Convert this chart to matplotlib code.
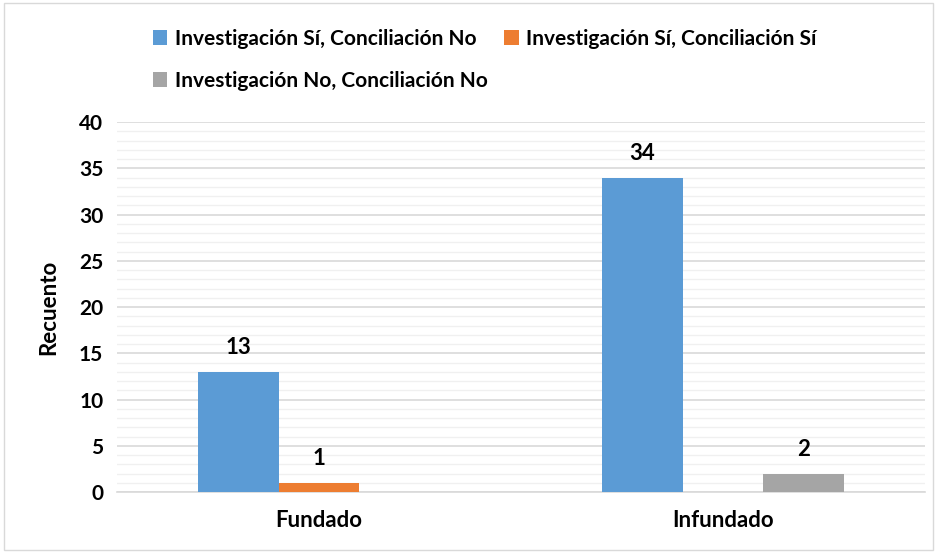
import numpy as np
import matplotlib
matplotlib.use("Agg")
import matplotlib.pyplot as plt
from matplotlib.patches import Rectangle

# ==================================================
# Data
# ==================================================
categories = ["Fundado", "Infundado"]
series_names = [
    "Investigación Sí, Conciliación No",
    "Investigación Sí, Conciliación Sí",
    "Investigación No, Conciliación No",
]
inv_si_conc_no = [13, 34]
inv_si_conc_si = [1, 0]
inv_no_conc_no = [0, 2]

colors = ["#5B9BD5", "#ED7D31", "#A5A5A5"]

plt.rcParams["font.family"] = ["Lato", "DejaVu Sans"]
plt.rcParams["font.weight"] = "bold"

fig = plt.figure(figsize=(9.37, 5.52), dpi=100)
ax = fig.add_axes([0.125, 0.1087, 0.862, 0.670])

x = np.arange(len(categories))
width = 0.2
all_series = [inv_si_conc_no, inv_si_conc_si, inv_no_conc_no]
handles = []
for i, (vals, name, col) in enumerate(zip(all_series, series_names, colors)):
    offs = (i - 1) * width
    bars = ax.bar(x + offs, vals, width, color=col, label=name, zorder=3)
    handles.append(bars)
    for xi, v in zip(x + offs, vals):
        if v > 0:
            ax.text(xi, v + 1.5, str(v), ha="center", va="bottom",
                    fontsize=16, fontweight="bold", color="black")

ax.set_xlim(-0.5, 1.5)
ax.set_ylim(0, 40)
ax.set_yticks(np.arange(0, 41, 5))
ax.set_yticks(np.arange(0, 41, 1), minor=True)
ax.grid(axis="y", which="major", color="#d9d9d9", linewidth=1.2, zorder=0)
ax.grid(axis="y", which="minor", color="#f0f0f0", linewidth=1.0, zorder=0)
ax.set_xticks(x)
ax.set_xticklabels(categories, fontsize=16, fontweight="bold")
ax.tick_params(axis="both", length=0, which="both")
ax.tick_params(axis="y", labelsize=15, pad=10)
ax.tick_params(axis="x", pad=13)
for s in ["top", "right", "left"]:
    ax.spines[s].set_visible(False)
ax.spines["bottom"].set_color("#d9d9d9")
ax.spines["bottom"].set_linewidth(1.2)

ax.set_ylabel("Recuento", fontsize=16, fontweight="bold", labelpad=14)

# legend: row 1 -> A, B ; row 2 -> C
order = [0, 2, 1]
leg = fig.legend([handles[i] for i in order], [series_names[i] for i in order],
                 ncol=2, loc="upper left", bbox_to_anchor=(0.143, 0.982),
                 frameon=False, fontsize=15, handlelength=0.7,
                 handleheight=0.7, handletextpad=0.35, columnspacing=0.8,
                 labelspacing=1.05)

# outer chart border
fig.patches.append(Rectangle((0.004, 0.004), 0.992, 0.99, transform=fig.transFigure,
                             fill=False, edgecolor="#d9d9d9", linewidth=1.0))

fig.savefig("out.png", dpi=100)
